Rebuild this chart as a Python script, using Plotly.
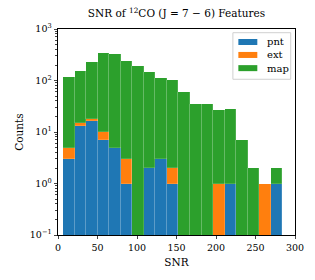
import numpy as np
import plotly.graph_objects as go

# histogram bins (SNR)
bin_lo = 6.3
bin_hi = 284.0
n_bins = 19
pnt = [3, 13, 16, 7, 5, 1, 0, 2, 3, 1, 0, 0, 0, 0, 1, 0, 0, 0, 1]
ext = [2, 2, 2, 3, 0, 2, 0, 0, 0, 1, 0, 0, 0, 1, 0, 0, 0, 1, 0]
mapc = [112, 140, 210, 327, 318, 236, 189, 144, 107, 100, 59, 35, 35, 26, 27, 7, 2, 0, 1]

x_ticks = [0, 50, 100, 150, 200, 250, 300]
y_ticks = [0.1, 1, 10, 100, 1000]
y_ticktext = ["10<sup>\u22121</sup>", "10<sup>0</sup>", "10<sup>1</sup>", "10<sup>2</sup>", "10<sup>3</sup>"]

edges = np.linspace(bin_lo, bin_hi, n_bins + 1)
centers = (edges[:-1] + edges[1:]) / 2
width = edges[1] - edges[0]

FONT = "DejaVu Serif"
fig = go.Figure()
series = [("pnt", pnt, "#1f77b4"), ("ext", ext, "#ff7f0e"), ("map", mapc, "#2ca02c")]
for name, vals, col in series:
    fig.add_trace(go.Bar(x=centers, y=vals, width=width, name=name, showlegend=False,
                         marker=dict(color=col, line=dict(color="rgba(255,255,255,0.25)", width=0.6))))

# legend drawn in paper coordinates (matplotlib-like compact box)
shapes = [dict(type="rect", xref="paper", yref="paper", x0=0.738, x1=0.982, y0=0.756, y1=0.982,
               fillcolor="rgba(255,255,255,0.85)", line=dict(color="#d0d0d0", width=1), layer="above")]
annotations = []
row_y = [0.937, 0.874, 0.810]
for (name, vals, col), yc in zip(series, row_y):
    shapes.append(dict(type="rect", xref="paper", yref="paper", x0=0.761, x1=0.841,
                       y0=yc - 0.0146, y1=yc + 0.0146, fillcolor=col, line=dict(width=0), layer="above"))
    annotations.append(dict(text=name, xref="paper", yref="paper", x=0.873, y=yc, xanchor="left",
                            yanchor="middle", showarrow=False, font=dict(size=10, family=FONT)))

minor_vals = [m * 10.0 ** e for e in range(-1, 3) for m in range(2, 10)]
fig.update_layout(
    width=315, height=280, barmode="stack", bargap=0,
    margin=dict(l=58, r=20, t=29, b=45, autoexpand=False),
    paper_bgcolor="white", plot_bgcolor="white",
    font=dict(family=FONT, size=10, color="black"),
    title=dict(text="SNR of <sup>12</sup>CO (J = 7 \u2212 6) Features", x=0.5, xanchor="center",
               xref="paper", y=0.965, yanchor="top", font=dict(size=10.5, family=FONT)),
    shapes=shapes, annotations=annotations, showlegend=False,
)
fig.update_xaxes(range=[0, 300], tickvals=x_ticks, ticks="outside", ticklen=3.5, tickwidth=0.8,
                 showline=True, linecolor="black", linewidth=0.8, mirror=True, showgrid=False,
                 zeroline=False, tickfont=dict(size=9.5, family=FONT), automargin=False,
                 title=dict(text="SNR", font=dict(size=10.5, family=FONT), standoff=6))
fig.update_yaxes(type="log", range=[-1, 3], tickvals=y_ticks, ticktext=y_ticktext, ticks="outside",
                 ticklen=3.5, tickwidth=0.8, showline=True, linecolor="black", linewidth=0.8,
                 mirror=True, showgrid=False, zeroline=False, tickfont=dict(size=9.5, family=FONT),
                 automargin=False,
                 minor=dict(tickvals=minor_vals, ticks="outside", ticklen=2, tickwidth=0.6, showgrid=False),
                 title=dict(text="Counts", font=dict(size=10.5, family=FONT), standoff=4))
fig.write_html("out.html", config={"displayModeBar": False},
               post_script="document.body.style.margin='0';")
